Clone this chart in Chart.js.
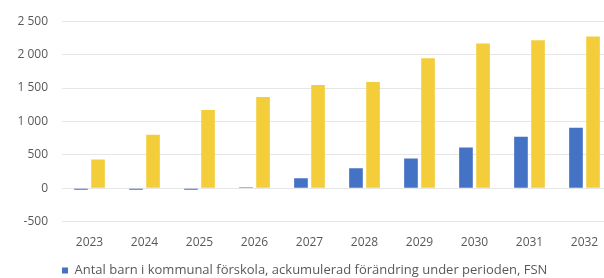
<!DOCTYPE html>
<html>
<head>
<meta charset="utf-8">
<script src="https://cdn.jsdelivr.net/npm/chart.js@4/dist/chart.umd.min.js"></script>
<style>
  html,body{margin:0;padding:0;background:#fff;overflow:hidden;}
  #wrap{width:604px;height:278px;overflow:hidden;}
</style>
</head>
<body>
<div id="wrap"><canvas id="c" width="620" height="287"></canvas></div>
<script>
const years=['2023','2024','2025','2026','2027','2028','2029','2030','2031','2032'];
const fsn=[-25,-25,-25,15,148,297,445,608,772,905];
const other=[430,800,1172,1365,1545,1590,1945,2165,2215,2270];
const fsnLabel='Antal barn i kommunal förskola, ackumulerad förändring under perioden, FSN';
const otherLabel='Antal barn i kommunal förskola, ackumulerad förändring under perioden';

Chart.defaults.font.family="'Open Sans', sans-serif";
Chart.defaults.font.size=12;
Chart.defaults.color='#595959';

const fmt=v=>{const s=Math.abs(v).toString().replace(/\B(?=(\d{3})+(?!\d))/g,' ');return (v<0?'-':'')+s;};

new Chart(document.getElementById('c'),{
  type:'bar',
  data:{labels:years,datasets:[
    {label:fsnLabel,data:fsn,backgroundColor:'#4472C4',categoryPercentage:0.62,barPercentage:0.8},
    {label:otherLabel,data:other,backgroundColor:'#F4CE3A',categoryPercentage:0.62,barPercentage:0.8}
  ]},
  options:{
    responsive:false,animation:false,
    layout:{padding:{top:13,left:0,right:8,bottom:0}},
    plugins:{
      legend:{position:'bottom',align:'start',fullSize:false,
        labels:{boxWidth:6,boxHeight:6,padding:0,font:{size:13},filter:i=>i.datasetIndex===0}},
      tooltip:{enabled:false}
    },
    scales:{
      x:{grid:{display:false,drawTicks:false},border:{display:false},ticks:{padding:14}},
      y:{min:-500,max:2500,
        ticks:{stepSize:500,padding:14,callback:v=>fmt(v)},
        grid:{color:'#e6e6e6',drawTicks:false},border:{display:false},
        afterFit:s=>{s.width=62;}}
    }
  }
});
</script>
</body>
</html>
